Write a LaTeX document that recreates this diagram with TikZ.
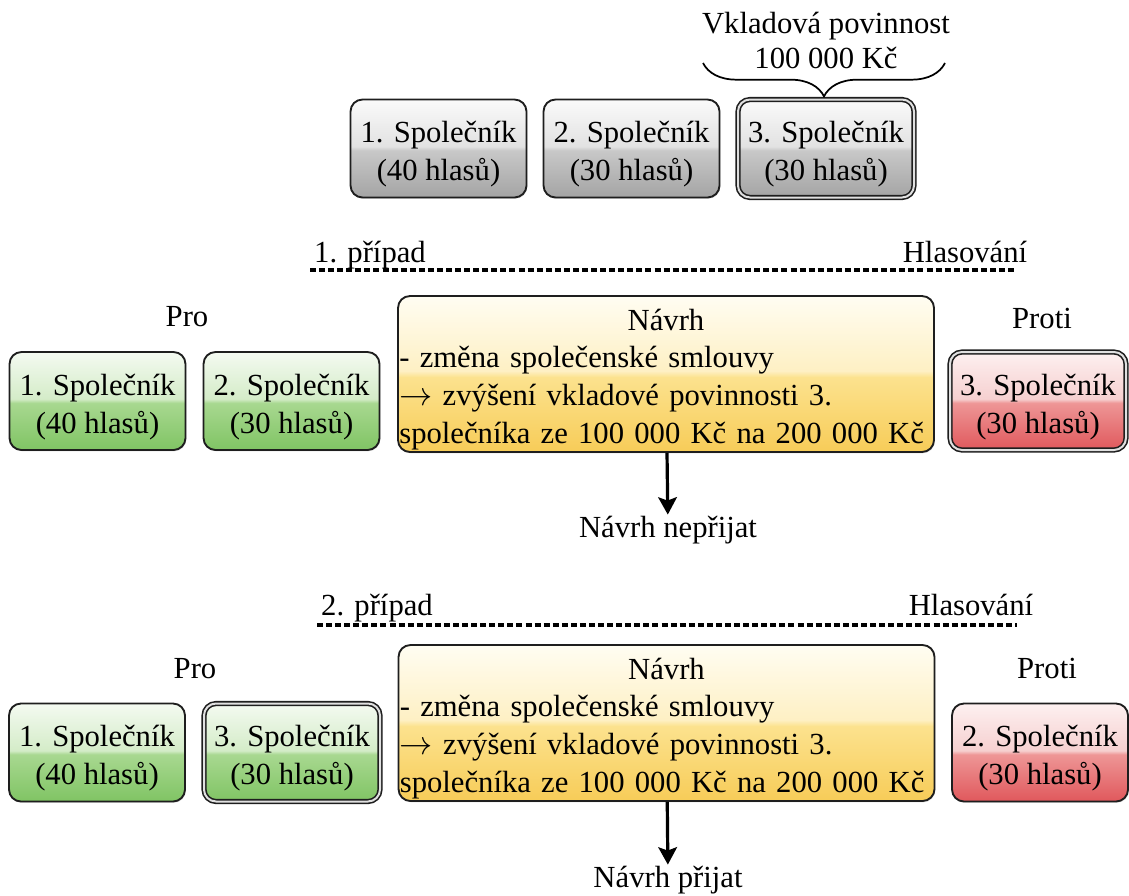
\documentclass[tikz,border=0pt]{standalone}
\usepackage{fontspec}
\setmainfont{Liberation Serif}
\usetikzlibrary{arrows.meta,decorations.pathreplacing,shadows}

\definecolor{edgeGray}{RGB}{30,30,30}
\definecolor{grayTop}{RGB}{250,250,250}
\definecolor{grayLt}{RGB}{226,226,226}
\definecolor{grayMid}{RGB}{200,200,200}
\definecolor{grayBot}{RGB}{164,164,164}
\definecolor{greenTop}{RGB}{244,250,241}
\definecolor{greenLt}{RGB}{212,236,200}
\definecolor{greenMid}{RGB}{168,216,144}
\definecolor{greenBot}{RGB}{128,196,100}
\definecolor{redTop}{RGB}{253,240,240}
\definecolor{redLt}{RGB}{246,208,208}
\definecolor{redMid}{RGB}{238,150,150}
\definecolor{redBot}{RGB}{224,88,92}
\definecolor{yelTop}{RGB}{255,253,242}
\definecolor{yelLt}{RGB}{254,240,196}
\definecolor{yelMid}{RGB}{252,226,142}
\definecolor{yelBot}{RGB}{247,204,88}

% glossy vertical shadings: name, top, light, middle, bottom
\newcommand{\mkgloss}[5]{\pgfdeclareverticalshading{#1}{100bp}{color(0bp)=(#5); color(25bp)=(#5); color(49bp)=(#4); color(51bp)=(#3); color(75bp)=(#2); color(100bp)=(#2)}}
\mkgloss{glossgray}{grayTop}{grayLt}{grayMid}{grayBot}
\mkgloss{glossgreen}{greenTop}{greenLt}{greenMid}{greenBot}
\mkgloss{glossred}{redTop}{redLt}{redMid}{redBot}
\mkgloss{glossyel}{yelTop}{yelLt}{yelMid}{yelBot}
% struts to push the first line down a little
\newcommand{\boxstrut}{\rule{0pt}{25pt}}
\newcommand{\navrhstrut}{\rule{0pt}{24pt}}

\tikzset{every picture/.style={line width=0.75pt},
  txt/.style={font=\fontsize{23}{28.5}\selectfont, inner sep=0.75pt},
  box/.style={txt, draw=edgeGray, line width=1.4pt, rounded corners=9pt, align=center,
    minimum width=132pt, minimum height=73.5pt,
    drop shadow={opacity=0.25, shadow xshift=0.6pt, shadow yshift=-1pt}},
  graybox/.style={box, shade, shading=glossgray},
  greenbox/.style={box, shade, shading=glossgreen},
  redbox/.style={box, shade, shading=glossred},
  navrhbox/.style={box, shade, shading=glossyel, font=\fontsize{23}{28.2}\selectfont,
    minimum width=402pt, minimum height=117pt, text width=400pt, align=left},
  dbl/.style={double=white!88!black, double distance=1.5pt, line width=1.2pt},
  heading/.style={line width=3pt, dash pattern=on 4.5pt off 2.3pt},
  result/.style={line width=2.4pt, -{Stealth[length=13pt, width=14pt, inset=2.5pt]}},
}

\begin{document}
\begin{tikzpicture}[x=0.75pt,y=0.75pt,yscale=-1,xscale=1]
\useasboundingbox (0,0) rectangle (1129,896);

%Top: partners
\node [graybox] (s1) at (438.5,148.5) {\boxstrut 1. Společník\\(40 hlasů)};
\node [graybox] (s2) at (631.5,148.5) {\boxstrut 2. Společník\\(30 hlasů)};
\node [graybox, dbl] (s3) at (826,148.5) {\boxstrut 3. Společník\\(30 hlasů)};
% Text Node
\node [txt, align=center, font=\fontsize{23}{26}\selectfont] (vkl) at (826,40.5) {Vkladová povinnost\\100 000 Kč};
%Brace
\coordinate (brL) at (703,63);
\coordinate (brR) at (945,63);
\draw [line width=1.3pt, decorate, decoration={brace, mirror, amplitude=25pt}] (brL) -- (brR);

%1. case
\node [txt, anchor=base] (pripad1) at (370,262) {1. případ};
\node [txt, anchor=base] (hlas1) at (965,262) {Hlasování};
\coordinate (h1L) at (310,270);
\coordinate (h1R) at (1017,270);
\draw [heading] (h1L) -- (h1R);

\node [txt] (pro1) at (187,317) {Pro};
\node [txt] (proti1) at (1042,318) {Proti};
\node [greenbox] (a1) at (97.5,401) {\boxstrut 1. Společník\\(40 hlasů)};
\node [greenbox] (a2) at (291.5,401) {\boxstrut 2. Společník\\(30 hlasů)};
\node [redbox, dbl] (r1) at (1038,401) {\boxstrut 3. Společník\\(30 hlasů)};
\node [navrhbox] (navrh1) at (666,374) {{\centering\navrhstrut Návrh\par}- změna společenské smlouvy\\$\rightarrow$ zvýšení vkladové povinnosti 3.\\společníka ze 100 000 Kč na 200 000 Kč};
\node [txt] (vysl1) at (668,530) {Návrh nepřijat};
\draw [result] (navrh1) -- (vysl1);

%2. case
\node [txt, anchor=base] (pripad2) at (377,615) {2. případ};
\node [txt, anchor=base] (hlas2) at (971,615) {Hlasování};
\coordinate (h2L) at (317,625);
\coordinate (h2R) at (1017,625);
\draw [heading] (h2L) -- (h2R);

\node [txt] (pro2) at (195,669) {Pro};
\node [txt] (proti2) at (1047,668) {Proti};
\node [greenbox] (b1) at (97,752.5) {\boxstrut 1. Společník\\(40 hlasů)};
\node [greenbox, dbl] (b2) at (292,752.5) {\boxstrut 3. Společník\\(30 hlasů)};
\node [redbox] (r2) at (1040,752.5) {\boxstrut 2. Společník\\(30 hlasů)};
\node [navrhbox] (navrh2) at (666.5,723) {{\centering\navrhstrut Návrh\par}- změna společenské smlouvy\\$\rightarrow$ zvýšení vkladové povinnosti 3.\\společníka ze 100 000 Kč na 200 000 Kč};
\node [txt] (vysl2) at (668,880) {Návrh přijat};
\draw [result] (navrh2) -- (vysl2);

\end{tikzpicture}
\end{document}
